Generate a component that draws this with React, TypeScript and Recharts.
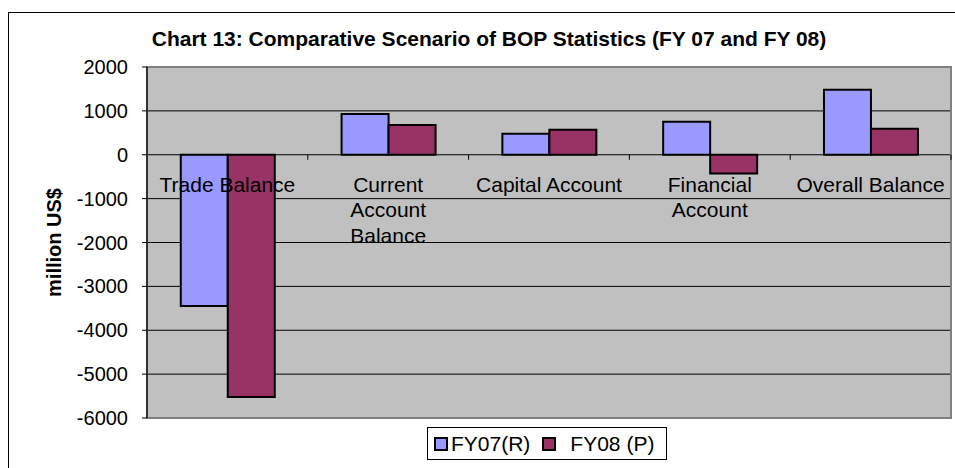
import React from 'react';
import { BarChart, Bar, XAxis, YAxis, CartesianGrid, Legend, ReferenceArea } from 'recharts';

const categories = ['Trade Balance', 'Current Account Balance', 'Capital Account', 'Financial Account', 'Overall Balance'];
// how the category names break onto lines under the zero line
const categoryLines: string[][] = [
  ['Trade Balance'],
  ['Current', 'Account', 'Balance'],
  ['Capital Account'],
  ['Financial', 'Account'],
  ['Overall Balance'],
];
const fy07Values = [-3450, 930, 480, 750, 1480];
const fy08Values = [-5520, 680, 570, -430, 590];
const seriesNames = ['FY07(R)', 'FY08 (P)'];
const yTicks = [-6000, -5000, -4000, -3000, -2000, -1000, 0, 1000, 2000];

const data = categories.map((category, i) => ({
  category,
  fy07: fy07Values[i],
  fy08: fy08Values[i],
}));

const FONT = '"Liberation Sans", Arial, sans-serif';
const W = 955;
const H = 468;
const PLOT_LEFT = 147;
const PLOT_RIGHT = 951;
const PLOT_TOP = 67;
const PLOT_BOTTOM = 418;
const Y_MIN = -6000;
const Y_MAX = 2000;
const BAND = (PLOT_RIGHT - PLOT_LEFT) / categories.length;
const ZERO_Y = PLOT_TOP + ((PLOT_BOTTOM - PLOT_TOP) * Y_MAX) / (Y_MAX - Y_MIN);

const CategoryTick = (props: any) => {
  const { x, payload } = props;
  const idx = categories.indexOf(payload.value);
  const lines = idx >= 0 ? categoryLines[idx] : [payload.value];
  return (
    <g>
      <line x1={x + BAND / 2} x2={x + BAND / 2} y1={ZERO_Y} y2={ZERO_Y + 5} stroke="#000" strokeWidth={1} />
      <text x={x} y={ZERO_Y + 37} textAnchor="middle" fontSize={21} fontFamily={FONT} fill="#000">
        {lines.map((line, i) => (
          <tspan key={i} x={x} dy={i === 0 ? 0 : 25.5}>
            {line}
          </tspan>
        ))}
      </text>
    </g>
  );
};

const LegendBox = (props: any) => {
  const items = props.payload || [];
  return (
    <div
      style={{
        border: '1px solid #000',
        boxSizing: 'border-box',
        width: 240,
        height: 33,
        display: 'flex',
        alignItems: 'center',
        paddingLeft: 6,
        fontFamily: FONT,
        fontSize: 21,
        color: '#000',
        background: '#fff',
      }}
    >
      {items.map((item: any, i: number) => (
        <span key={i} style={{ display: 'flex', alignItems: 'center', marginRight: i === 0 ? 12 : 0 }}>
          <span
            style={{
              display: 'inline-block',
              width: 10,
              height: 10,
              border: '2px solid #000',
              background: item.color,
              marginRight: i === 0 ? 3 : 14,
            }}
          />
          {item.value}
        </span>
      ))}
    </div>
  );
};

const YLabel = (props: any) => {
  const { viewBox } = props;
  const cy = viewBox.y + viewBox.height / 2;
  const cx = 61;
  return (
    <text
      x={cx}
      y={cy}
      transform={`rotate(-90, ${cx}, ${cy})`}
      textAnchor="middle"
      fontSize={20}
      fontWeight="bold"
      fontFamily={FONT}
      fill="#000"
    >
      million US$
    </text>
  );
};

export default function App() {
  return (
    <div style={{ position: 'absolute', left: 0, top: 0, width: W, height: H, background: '#fff', fontFamily: FONT }}>
      <div
        style={{
          position: 'absolute',
          left: 8,
          top: 12,
          right: 0,
          bottom: 0,
          borderTop: '1px solid #000',
          borderLeft: '1px solid #000',
        }}
      />
      <div
        style={{
          position: 'absolute',
          left: 0,
          top: 28,
          width: 978,
          textAlign: 'center',
          fontSize: 21,
          lineHeight: '21px',
          fontWeight: 'bold',
          color: '#000',
        }}
      >
        Chart 13: Comparative Scenario of BOP Statistics (FY 07 and FY 08)
      </div>
      <div style={{ position: 'absolute', left: 0, top: 0 }}>
        <BarChart
          width={W}
          height={H}
          data={data}
          margin={{ top: PLOT_TOP, right: W - PLOT_RIGHT, left: 0, bottom: H - PLOT_BOTTOM - 1 }}
          barCategoryGap="21%"
          barGap={0}
        >
          <CartesianGrid vertical={false} stroke="#000" strokeWidth={1} fill="#C0C0C0" fillOpacity={1} />
          <ReferenceArea y1={Y_MIN} y2={Y_MAX} fill="none" stroke="#808080" strokeWidth={2} ifOverflow="visible" />
          <YAxis
            width={PLOT_LEFT}
            domain={[Y_MIN, Y_MAX]}
            ticks={yTicks}
            interval={0}
            tickSize={5}
            tickMargin={14}
            axisLine={{ stroke: '#333', strokeWidth: 2 }}
            tickLine={{ stroke: '#000' }}
            tick={{ fontSize: 20, fill: '#000', fontFamily: FONT }}
            label={<YLabel />}
          />
          <Bar dataKey="fy07" name={seriesNames[0]} fill="#9999FF" stroke="#000" strokeWidth={2} isAnimationActive={false} />
          <Bar dataKey="fy08" name={seriesNames[1]} fill="#993366" stroke="#000" strokeWidth={2} isAnimationActive={false} />
          <XAxis
            dataKey="category"
            height={1}
            axisLine={false}
            tickLine={false}
            interval={0}
            tick={<CategoryTick />}
          />
          <Legend
            layout="horizontal"
            verticalAlign="middle"
            align="center"
            content={<LegendBox />}
            wrapperStyle={{ left: 427, top: 427, width: 240, height: 33 }}
          />
        </BarChart>
      </div>
    </div>
  );
}
